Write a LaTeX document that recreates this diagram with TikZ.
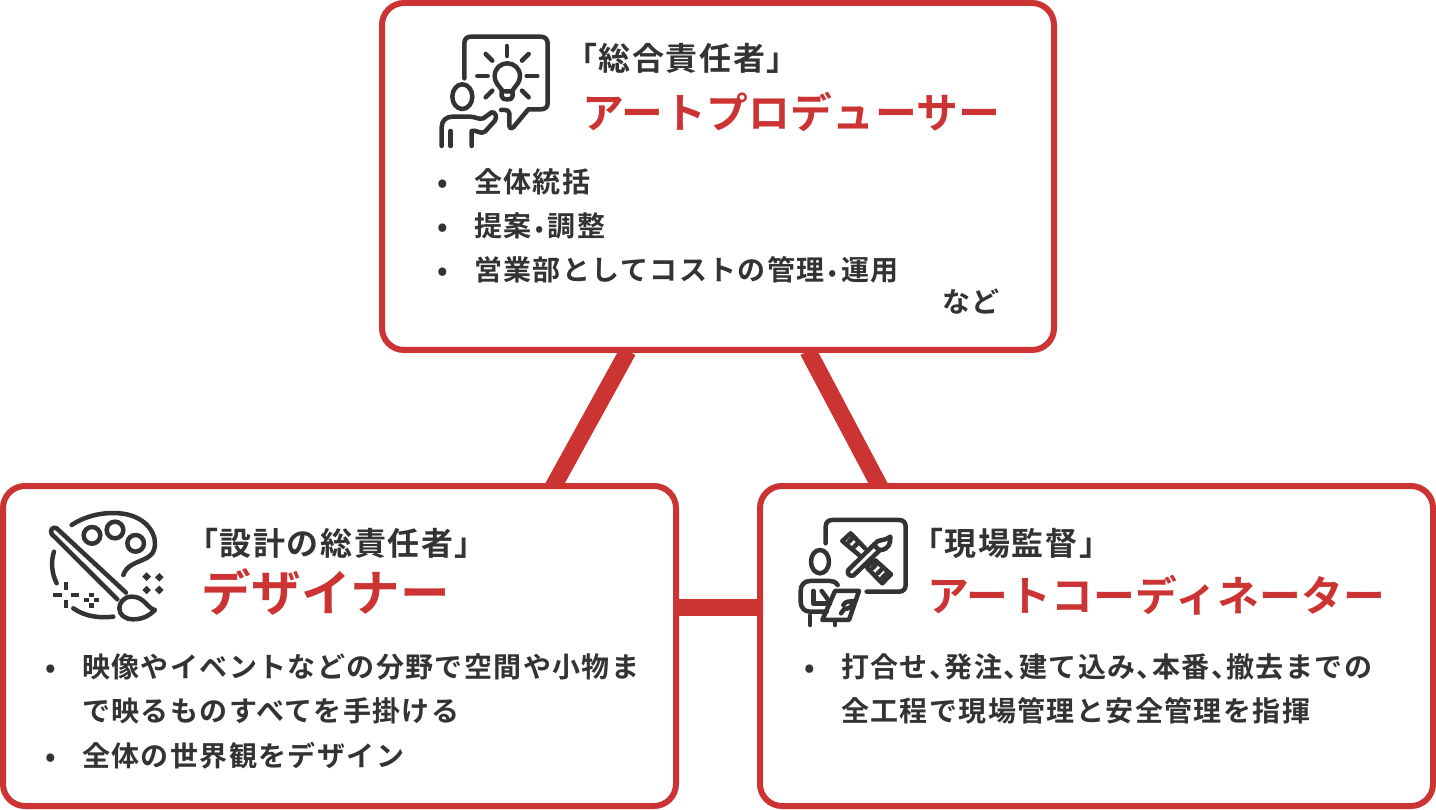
\documentclass[tikz,border=0pt]{standalone}
\usepackage{fontspec}
\newfontfamily\jpb[LetterSpace=1]{Noto Sans CJK JP Bold}
\newfontfamily\jpm[LetterSpace=5]{Noto Sans CJK JP Bold}
\newfontfamily\jph[LetterSpace=5]{Noto Sans CJK JP Bold}
\definecolor{redc}{HTML}{CC3333}
\definecolor{ink}{HTML}{333333}
\newcommand{\nc}{、\kern-12.5pt\relax}
\newcommand{\nd}{\kern4pt{\fontsize{22}{22}\selectfont•}\kern4pt\relax}
\tikzset{
 card/.style={draw=redc,line width=6pt,fill=white,rounded corners=22pt,inner sep=0pt},
 link/.style={draw=redc,line width=17pt},
 head/.style={anchor=base west,inner sep=0pt,text=ink,font=\fontsize{32}{32}\selectfont\jph},
 role/.style={anchor=base west,inner sep=0pt,text=redc,font=\fontsize{41.8}{41.8}\selectfont\jpb},
 bigrole/.style={anchor=base west,inner sep=0pt,text=redc,font=\fontsize{49.5}{49.5}\selectfont\jpb},
 body/.style={anchor=base west,inner sep=0pt,text=ink,font=\fontsize{28}{28}\selectfont\jpm},
 ico/.style={draw=ink,line width=4.5pt,line cap=round,line join=round,fill=none},
 sq/.style={fill=ink,draw=none},
}
\begin{document}
\begin{tikzpicture}[x=1pt,y=-1pt]
\useasboundingbox (0,0) rectangle (1436,810);
\fill[white] (0,0) rectangle (1436,810);
\coordinate (a1) at (628,351); \coordinate (b1) at (553,487);
\coordinate (a2) at (808,351); \coordinate (b2) at (880,487);
\coordinate (c1) at (677,607); \coordinate (c2) at (759,607);
\draw[link] (a1) -- (b1);
\draw[link] (a2) -- (b2);
\draw[link] (c1) -- (c2);
\node[card,minimum width=672pt,minimum height=347pt] (top) at (718,176.5) {};
\node[card,minimum width=673pt,minimum height=320pt] (left) at (339.5,646) {};
\node[card,minimum width=673pt,minimum height=320pt] (right) at (1096.5,646) {};
% texts top
\node[head] (t1) at (565,71) {「総合責任者」};
\node[role] (t2) at (582,129) {アートプロデューサー};
\node[body] (b1a) at (437.5,193) {•};
\node[body] (b1b) at (474,193) {全体統括};
\node[body] (b2a) at (437.5,237) {•};
\node[body] (b2b) at (474,237) {提案\nd 調整};
\node[body] (b3a) at (437.5,281) {•};
\node[body] (b3b) at (474,281) {営業部としてコストの管理\nd 運用};
\node[body] (b4) at (942,313) {など};
% left
\node[head] (l1) at (186,555) {「設計の総責任者」};
\node[role,bigrole] (l2) at (201,611) {デザイナー};
\node[body] (l3a) at (45.5,677) {•};
\node[body] (l3b) at (82,677) {映像やイベントなどの分野で空間や小物ま};
\node[body] (l4) at (82,721) {で映るものすべてを手掛ける};
\node[body] (l5a) at (45.5,766) {•};
\node[body] (l5b) at (82,766) {全体の世界観をデザイン};
% right
\node[head] (r1) at (911,555) {「現場監督」};
\node[role] (r2) at (927,611) {アートコーディネーター};
\node[body] (r3a) at (804.5,677) {•};
\node[body] (r3b) at (841,677) {打合せ\nc 発注\nc 建て込み\nc 本番\nc 撤去までの};
\node[body] (r4) at (841,721) {全工程で現場管理と安全管理を指揮};
% icon 1
\begin{scope}[shift={(420,20)},x=0.3333pt,y=-0.3333pt]
\draw[ico] (133,175) -- (133,70) .. controls (133,58) and (140,50) .. (152,50) -- (362,50) .. controls (375,50) and (383,58) .. (383,70) -- (383,250) .. controls (383,262) and (375,268) .. (362,268) -- (325,268) -- (280,322) .. controls (275,328) and (268,326) .. (268,318) -- (268,280) .. controls (268,273) and (262,270) .. (255,270) -- (243,270);
\foreach \p/\q in {{261,78}/{261,108},{197,102}/{217,122},{326,102}/{306,122},{172,168}/{203,168},{320,168}/{352,168},{217,212}/{197,232},{306,212}/{326,232}}
 \draw[ico] (\p) -- (\q);
\draw[ico] (247,212) .. controls (235,195) and (224,188) .. (224,168) .. controls (224,145) and (242,130) .. (262,130) .. controls (282,130) and (300,145) .. (300,168) .. controls (300,188) and (288,195) .. (277,212);
\draw[ico] (245,214) -- (278,214) -- (278,228) .. controls (278,236) and (272,238) .. (262,238) .. controls (252,238) and (245,236) .. (245,228) -- cycle;
\draw[ico] (127,230) ellipse (30 and 37);
\draw[ico] (65,378) -- (65,322) .. controls (65,302) and (78,290) .. (98,290) -- (150,290) .. controls (165,290) and (178,300) .. (190,295) -- (215,277) .. controls (226,275) and (232,290) .. (225,302) -- (195,335) .. controls (180,345) and (170,328) .. (155,333) -- (155,378);
\draw[ico] (92,333) -- (92,378);
\end{scope}
% icon 2
\begin{scope}[shift={(30,500)},x=0.3333pt,y=-0.3333pt]
\draw[ico] (125,75) .. controls (170,45) and (230,33) .. (285,42) .. controls (340,52) and (375,90) .. (375,130) .. controls (375,195) and (300,170) .. (280,225);
\draw[ico] (72,155) .. controls (62,185) and (65,220) .. (80,250);
\draw[ico] (130,325) .. controls (165,350) and (210,355) .. (250,350);
\draw[ico] (186,106) circle (25);
\draw[ico] (255,90) circle (25);
\draw[ico] (317,130) circle (25);
\draw[ico] (288,278) -- (80,85) .. controls (70,78) and (58,90) .. (65,102) -- (262,298);
\draw[ico] (375,330) .. controls (350,325) and (345,290) .. (305,290) .. controls (280,290) and (268,310) .. (268,325) .. controls (268,345) and (285,358) .. (310,358) .. controls (340,358) and (360,345) .. (375,330) -- cycle;
\foreach \x/\y in {350/230,388/232,350/270,388/270}
 \fill[sq] (\x-13,\y) -- (\x,\y-13) -- (\x+13,\y) -- (\x,\y+13) -- cycle;
\foreach \x/\y/\w/\h in {108/258/7/12,82/285/13/7,135/285/13/7,108/312/7/12,185/285/7/7,170/300/7/7,200/300/7/7,185/316/7/7}
 \fill[sq] (\x-\w,\y-\h) rectangle (\x+\w,\y+\h);
\end{scope}
% icon 3
\begin{scope}[shift={(785,505)},x=0.3333pt,y=-0.3333pt]
\draw[ico] (122,115) -- (122,65) .. controls (122,52) and (130,45) .. (142,45) -- (342,45) .. controls (355,45) and (362,52) .. (362,65) -- (362,240) .. controls (362,252) and (355,260) .. (342,260) -- (245,260);
\draw[ico] (222,150) -- (172,108) -- (197,85) -- (240,130);
\draw[ico] (245,185) -- (270,165) -- (318,208) -- (292,235) -- (248,190);
\draw[ico] (202,100) -- (192,110);
\draw[ico] (218,115) -- (208,125);
\draw[ico] (272,180) -- (262,190);
\draw[ico] (288,195) -- (278,205);
\draw[ico] (302,208) -- (292,218);
\draw[ico] (268,118) -- (190,195) .. controls (185,205) and (192,215) .. (205,212) -- (285,135);
\draw[ico] (268,118) .. controls (278,100) and (300,110) .. (316,95) .. controls (318,115) and (310,135) .. (285,135) .. controls (275,130) and (270,125) .. (268,118);
\draw[ico] (105,170) ellipse (27 and 35);
\draw[ico] (158,240) .. controls (150,230) and (145,228) .. (135,228) -- (75,228) .. controls (58,228) and (47,240) .. (47,258) -- (47,290) .. controls (47,308) and (58,320) .. (75,320) -- (125,320);
\draw[ico] (85,258) -- (85,295) -- (135,295);
\draw[ico] (110,258) -- (130,285);
\draw[ico] (150,258) -- (222,258) -- (192,345) -- (112,345) -- cycle;
\draw[ico] (175,300) .. controls (180,288) and (195,290) .. (205,288) .. controls (205,305) and (190,312) .. (178,312) -- (168,325);
\draw[ico] (75,332) -- (75,360);
\draw[ico] (150,348) -- (150,360);
\end{scope}
\end{tikzpicture}
\end{document}
